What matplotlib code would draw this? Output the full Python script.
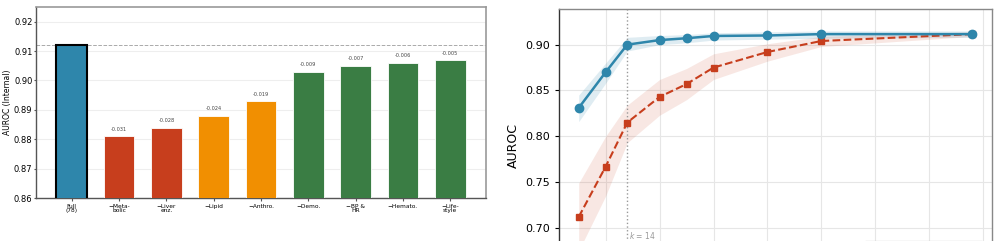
import numpy as np
import matplotlib
matplotlib.use("Agg")
import matplotlib.pyplot as plt

# --- left panel: ablation of feature groups ---
groups = ["Full\n(78)", "\u2212Meta-\nbolic", "\u2212Liver\nenz.", "\u2212Lipid", "\u2212Anthro.",
          "\u2212Demo.", "\u2212BP &\nHR", "\u2212Hemato.", "\u2212Life-\nstyle"]
auroc_ablation = [0.912, 0.881, 0.884, 0.888, 0.893, 0.903, 0.905, 0.906, 0.907]
delta_labels = ["", "-0.031", "-0.028", "-0.024", "-0.019", "-0.009", "-0.007", "-0.006", "-0.005"]
bar_colors = ["#2E86AB", "#C73E1D", "#C73E1D", "#F18F01", "#F18F01",
              "#3A7D44", "#3A7D44", "#3A7D44", "#3A7D44"]

# --- right panel: AUROC vs number of features ---
k_values = [5, 10, 14, 20, 25, 30, 40, 50, 78]
ranked_mean = [0.831, 0.870, 0.900, 0.905, 0.907, 0.9095, 0.910, 0.9115, 0.9115]
ranked_lo = [0.816, 0.858, 0.893, 0.900, 0.902, 0.905, 0.906, 0.907, 0.908]
ranked_hi = [0.845, 0.880, 0.908, 0.910, 0.911, 0.913, 0.914, 0.915, 0.915]
random_mean = [0.712, 0.767, 0.815, 0.843, 0.857, 0.875, 0.892, 0.904, 0.9115]
random_lo = [0.675, 0.735, 0.793, 0.823, 0.840, 0.862, 0.882, 0.898, 0.909]
random_hi = [0.749, 0.800, 0.834, 0.862, 0.874, 0.890, 0.901, 0.909, 0.914]
k_selected = 14

fig = plt.figure(figsize=(9.99, 2.41), dpi=100)

ax1 = fig.add_axes([0.036, 0.178, 0.4505, 0.793])
x = np.arange(len(groups))
bars = ax1.bar(x, auroc_ablation, width=0.65, color=bar_colors, edgecolor="white",
               linewidth=0.6, zorder=3)
bars[0].set_edgecolor("black")
bars[0].set_linewidth(1.5)
for xi, v, lab in zip(x, auroc_ablation, delta_labels):
    if lab:
        ax1.text(xi, v + 0.0015, lab, ha="center", va="bottom", fontsize=3.6, color="#444444")
ax1.axhline(auroc_ablation[0], color="#aaaaaa", linestyle="--", linewidth=0.7, zorder=2)
ax1.set_ylim(0.86, 0.925)
ax1.set_xticks(x)
ax1.set_xticklabels(groups, fontsize=4.2, linespacing=0.9)
ax1.tick_params(axis="y", labelsize=6, length=1.5, pad=1, color="#555555")
ax1.tick_params(axis="x", length=2, color="#555555", pad=2)
ax1.set_ylabel("AUROC (Internal)", fontsize=5.5, labelpad=1)
ax1.yaxis.grid(True, color="#eeeeee", linewidth=0.8, zorder=0)
ax1.set_axisbelow(True)
for side in ["top", "right"]:
    ax1.spines[side].set_color("#999999")
    ax1.spines[side].set_linewidth(1.2)
for side in ["left", "bottom"]:
    ax1.spines[side].set_color("#555555")
    ax1.spines[side].set_linewidth(1.0)

# right panel is partly cut off at the bottom of the figure
ax2 = fig.add_axes([0.5596, -0.174, 0.4334, 1.137])
ax2.fill_between(k_values, ranked_lo, ranked_hi, color="#2E86AB", alpha=0.15, linewidth=0)
ax2.fill_between(k_values, random_lo, random_hi, color="#C73E1D", alpha=0.12, linewidth=0)
ax2.plot(k_values, ranked_mean, color="#2E86AB", marker="o", markersize=6, linewidth=1.8,
         label="Ranked features", zorder=4)
ax2.plot(k_values, random_mean, color="#C73E1D", marker="s", markersize=5, linewidth=1.5,
         linestyle="--", label="Random features", zorder=3)
ax2.axvline(k_selected, color="#999999", linestyle=":", linewidth=1)
ax2.text(k_selected + 0.3, 0.692, "$k$ = 14", fontsize=5.5, color="#999999", va="center")
ax2.set_xlim(1.35, 81.65)
ax2.set_ylim(0.64, 0.939)
ax2.set_xticks([10, 20, 30, 40, 50, 60, 70, 80])
ax2.set_yticks([0.65, 0.70, 0.75, 0.80, 0.85, 0.90])
ax2.set_yticklabels(["0.65", "0.70", "0.75", "0.80", "0.85", "0.90"])
ax2.tick_params(axis="y", labelsize=8, length=3)
ax2.set_ylabel("AUROC", fontsize=9)
ax2.grid(True, color="#e6e6e6", linewidth=0.8)
ax2.set_axisbelow(True)
for side in ax2.spines:
    ax2.spines[side].set_color("#333333")
    ax2.spines[side].set_linewidth(1.0)
ax2.spines["top"].set_color("#888888")
ax2.spines["right"].set_color("#888888")
ax2.legend(loc="lower right", fontsize=7, frameon=True, edgecolor="#cccccc",
           bbox_to_anchor=(0.99, 0.015))

fig.savefig("out.png", dpi=100)
